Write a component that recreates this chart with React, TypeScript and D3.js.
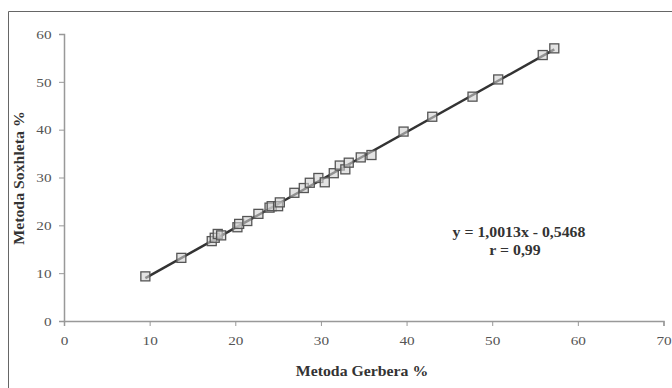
import React, { useEffect, useRef } from 'react';
import * as d3 from 'd3';

// Metoda Gerbera % (x) vs Metoda Soxhleta % (y)
const gerbera = [9.5, 13.7, 17.25, 17.6, 17.95, 18.35, 20.25, 20.45, 21.4, 22.7, 24.0, 24.25, 25.0, 25.2, 26.9, 28.0, 28.7, 29.7, 30.45, 31.5, 32.2, 32.85, 33.25, 34.65, 35.9, 39.65, 43.0, 47.7, 50.7, 55.9, 57.25];
const soxhleta = [9.33, 13.2, 16.7, 17.4, 18.2, 17.9, 19.6, 20.3, 20.9, 22.4, 23.7, 24.0, 24.0, 24.8, 26.8, 27.8, 28.9, 29.9, 29.0, 30.9, 32.5, 31.7, 33.1, 34.2, 34.7, 39.6, 42.7, 46.9, 50.5, 55.6, 57.0];
const xTicks = [0, 10, 20, 30, 40, 50, 60, 70];
const yTicks = [0, 10, 20, 30, 40, 50, 60];
const slope = 1.0013;
const intercept = -0.5468;

const App = () => {
  const svgRef = useRef<SVGSVGElement>(null);

  useEffect(() => {
    const svg = d3.select(svgRef.current);
    svg.selectAll('*').remove();

    const x = d3.scaleLinear().domain([0, 70]).range([64, 663.5]);
    const y = d3.scaleLinear().domain([0, 60]).range([321, 34]);
    const font = '"Liberation Serif", "Times New Roman", serif';
    const stretch = 1.13; // the source text is a bit wide

    svg.append('rect').attr('width', 672).attr('height', 388).attr('fill', '#fff');

    // outer frame
    svg.append('path').attr('d', 'M8.5,388 L8.5,11.5 L672,11.5').attr('fill', 'none').attr('stroke', '#666').attr('stroke-width', 1);

    // x axis
    const gx = svg.append('g').attr('transform', `translate(0,${y(0)})`)
      .call(d3.axisBottom(x).tickValues(xTicks).tickSize(5).tickPadding(9).tickFormat(d3.format('d')));
    gx.select('.domain').attr('stroke', '#999').attr('stroke-width', 1.5);
    gx.selectAll('line').attr('stroke', '#999');
    gx.selectAll('text').attr('font-family', font).attr('font-size', 13.5).attr('fill', '#555')
      .attr('transform', `scale(${stretch},1)`);

    // y axis
    const gy = svg.append('g').attr('transform', `translate(${x(0)},0)`)
      .call(d3.axisLeft(y).tickValues(yTicks).tickSize(5).tickPadding(6).tickFormat(d3.format('d')));
    gy.select('.domain').attr('stroke', '#999').attr('stroke-width', 1.5);
    gy.selectAll('line').attr('stroke', '#999');
    gy.selectAll('text').attr('font-family', font).attr('font-size', 13.5).attr('fill', '#555')
      .attr('transform', `scale(${stretch},1)`);

    // trend line
    const xMin = d3.min(gerbera)!;
    const xMax = d3.max(gerbera)!;
    svg.append('line')
      .attr('x1', x(xMin)).attr('y1', y(slope * xMin + intercept))
      .attr('x2', x(xMax)).attr('y2', y(slope * xMax + intercept))
      .attr('stroke', '#333').attr('stroke-width', 2.5);

    // points
    const s = 9;
    svg.append('g').selectAll('rect')
      .data(gerbera.map((g, i) => ({ g, v: soxhleta[i] })))
      .join('rect')
      .attr('x', (d) => x(d.g) - s / 2)
      .attr('y', (d) => y(d.v) - s / 2)
      .attr('width', s).attr('height', s)
      .attr('fill', '#d0d0d0').attr('fill-opacity', 0.6)
      .attr('stroke', '#555').attr('stroke-width', 1.3);

    const label = (tx: number, ty: number, rot: number, txt: string) => {
      svg.append('text')
        .attr('transform', `translate(${tx},${ty}) rotate(${rot}) scale(${stretch},1)`)
        .attr('text-anchor', 'middle')
        .attr('font-family', font).attr('font-size', 14).attr('font-weight', 'bold').attr('fill', '#333')
        .text(txt);
    };

    // equation
    label(519, 237, 0, 'y = 1,0013x - 0,5468');
    label(515, 255, 0, 'r = 0,99');

    // axis titles
    label(362, 376, 0, 'Metoda Gerbera %');
    label(24, 178, -90, 'Metoda Soxhleta %');
  }, []);

  return (
    <svg ref={svgRef} width={672} height={388} style={{ position: 'absolute', left: 0, top: 0 }} />
  );
};

export default App;
